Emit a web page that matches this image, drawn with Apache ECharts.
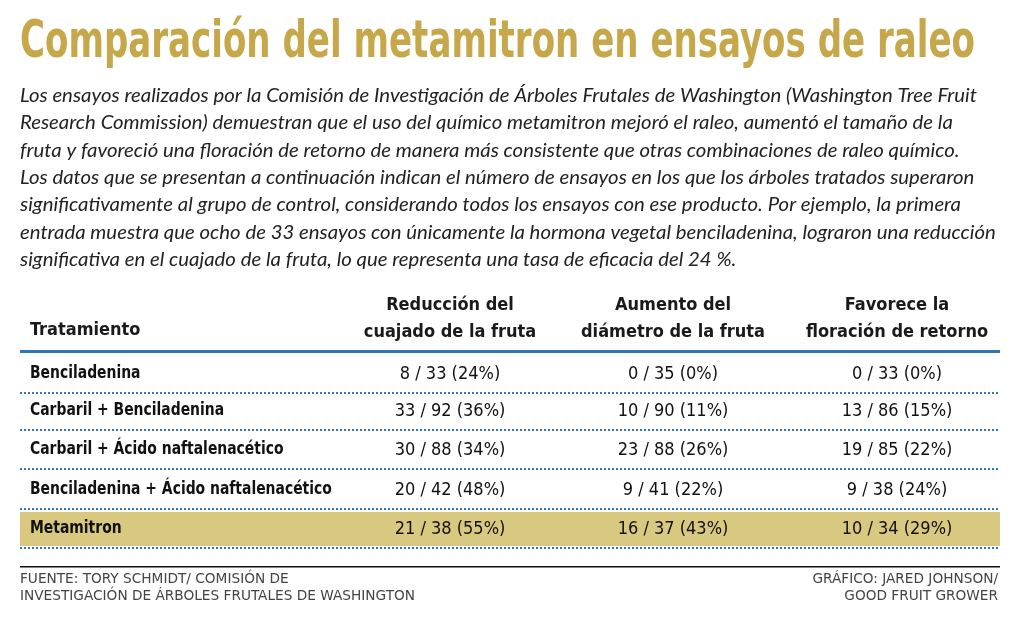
<!DOCTYPE html>
<html><head><meta charset="utf-8">
<script src="https://cdn.jsdelivr.net/npm/echarts@6/dist/echarts.min.js"></script>
<style>html,body{margin:0;padding:0;background:#fff}#c{width:1024px;height:634px}</style>
</head><body><div id="c"></div>
<script>
const title = "Comparación del metamitron en ensayos de raleo";
const intro = [
"Los ensayos realizados por la Comisión de Investigación de Árboles Frutales de Washington (Washington Tree Fruit",
"Research Commission) demuestran que el uso del químico metamitron mejoró el raleo, aumentó el tamaño de la",
"fruta y favoreció una floración de retorno de manera más consistente que otras combinaciones de raleo químico.",
"Los datos que se presentan a continuación indican el número de ensayos en los que los árboles tratados superaron",
"significativamente al grupo de control, considerando todos los ensayos con ese producto. Por ejemplo, la primera",
"entrada muestra que ocho de 33 ensayos con únicamente la hormona vegetal benciladenina, lograron una reducción",
"significativa en el cuajado de la fruta, lo que representa una tasa de eficacia del 24 %."
];
const headers = ["Tratamiento", "Reducción del\ncuajado de la fruta", "Aumento del\ndiámetro de la fruta", "Favorece la\nfloración de retorno"];
const treatments = ["Benciladenina","Carbaril + Benciladenina","Carbaril + Ácido naftalenacético","Benciladenina + Ácido naftalenacético","Metamitron"];
const successes = [[8,0,0],[33,10,13],[30,23,19],[20,9,9],[21,16,10]];
const totals = [[33,35,33],[92,90,86],[88,88,85],[42,41,38],[38,37,34]];
const percents = [[24,0,0],[36,11,15],[34,26,22],[48,22,24],[55,43,29]];
const sourceText = ["FUENTE: TORY SCHMIDT/ COMISIÓN DE","INVESTIGACIÓN DE ÁRBOLES FRUTALES DE WASHINGTON"];
const creditText = ["GRÁFICO: JARED JOHNSON/","GOOD FRUIT GROWER"];

const cv = document.createElement('canvas').getContext('2d');
function w(t,f){cv.font=f;return cv.measureText(t).width;}
const els = [];
const cond = '"DejaVu Sans Condensed",sans-serif';
const tf = 'bold 52px "DejaVu Sans Condensed",sans-serif';
const ts = 955/w(title,tf);
els.push({type:'text',x:20,y:17,scaleX:ts,style:{text:title,fill:'#c6a84b',font:tf}});
const itf='italic 19px Lato, sans-serif';
const is = 957/w(intro[0],itf);
intro.forEach((t,i)=>els.push({type:'text',x:20,y:96+i*27.3,scaleX:is,style:{text:t,fill:'#222',font:itf,verticalAlign:'middle'}}));
const colX=[30,450,673,897];
els.push({type:'text',left:30,top:321,style:{text:headers[0],fill:'#1a1a1a',font:'bold 18px '+cond}});
for(let j=1;j<4;j++){
  els.push({type:'text',x:colX[j],y:292,style:{text:headers[j],fill:'#1a1a1a',font:'bold 18px '+cond,align:'center',lineHeight:27}});
}
els.push({type:'rect',shape:{x:20,y:350,width:980,height:3},style:{fill:'#2f78b7'}});
const rowY=[374,411,450,490,529];
els.push({type:'rect',shape:{x:20,y:512,width:980,height:34},style:{fill:'#d9c87f'}});
treatments.forEach((t,i)=>{
  els.push({type:'text',x:30,y:rowY[i],scaleX:0.91,style:{text:t,fill:'#111',font:'bold 17px '+cond,verticalAlign:'middle'}});
  for(let j=0;j<3;j++){
    els.push({type:'text',x:colX[j+1],y:rowY[i],style:{text:successes[i][j]+' / '+totals[i][j]+' ('+percents[i][j]+'%)',fill:'#111',font:'18px '+cond,align:'center',verticalAlign:'middle'}});
  }
  els.push({type:'line',shape:{x1:20,y1:rowY[i]+19,x2:1000,y2:rowY[i]+19},style:{stroke:'#2f78b7',lineWidth:2,lineDash:[2,2]}});
});
els.push({type:'rect',shape:{x:20,y:566,width:980,height:1.5},style:{fill:'#111'}});
const ff='14px '+cond;
const fs=395/w(sourceText[1],ff);
sourceText.forEach((t,i)=>els.push({type:'text',x:20,y:579+i*17,scaleX:fs,style:{text:t,fill:'#444',font:ff,verticalAlign:'middle'}}));
creditText.forEach((t,i)=>els.push({type:'text',x:998,y:579+i*17,scaleX:fs,style:{text:t,fill:'#444',font:ff,align:'right',verticalAlign:'middle'}}));

const chart = echarts.init(document.getElementById('c'));
chart.setOption({animation:false,graphic:{elements:els}});
</script></body></html>
